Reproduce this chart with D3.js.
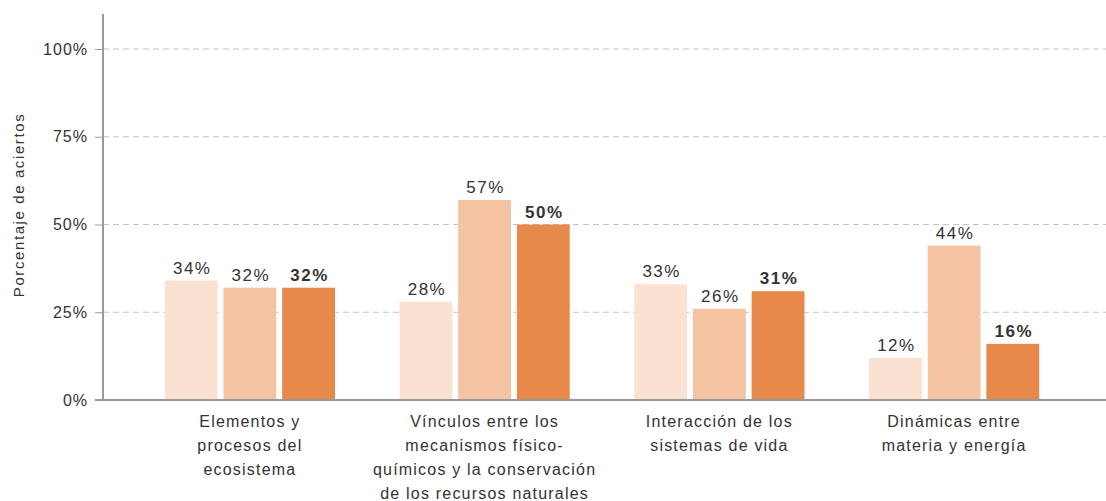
<!DOCTYPE html>
<html>
<head>
<meta charset="utf-8">
<script src="https://cdn.jsdelivr.net/npm/d3@7"></script>
<style>
  body { margin: 0; background: #fff; }
  text { font-family: "Liberation Sans", Arial, sans-serif; }
</style>
</head>
<body>
<svg id="chart" width="1106" height="501"></svg>
<script>
// chart data
var categories = [
  ["Elementos y", "procesos del", "ecosistema"],
  ["Vínculos entre los", "mecanismos físico-", "químicos y la conservación", "de los recursos naturales"],
  ["Interacción de los", "sistemas de vida"],
  ["Dinámicas entre", "materia y energía"]
];
var series = ["s1", "s2", "s3"];
var values = [
  [34, 32, 32],
  [28, 57, 50],
  [33, 26, 31],
  [12, 44, 16]
];
var yTicks = [0, 25, 50, 75, 100];
var colors = ["#fbe1d1", "#f4c4a2", "#e8894c"];

var svg = d3.select('#chart');
var x0 = 103, yTop = 49, yBottom = 400;

var x = d3.scaleBand()
  .domain(d3.range(categories.length))
  .range([100, 1104])
  .paddingInner(0.275)
  .paddingOuter(0.276);

var xs = d3.scaleBand()
  .domain(series)
  .range([0, x.bandwidth()])
  .paddingInner(0.1);

var y = d3.scaleLinear().domain([0, 100]).range([yBottom, yTop]);

// gridlines
svg.append('g').selectAll('line')
  .data(yTicks.filter(function (d) { return d > 0; }))
  .enter().append('line')
  .attr('x1', x0).attr('x2', 1106)
  .attr('y1', function (d) { return y(d); })
  .attr('y2', function (d) { return y(d); })
  .attr('stroke', '#c4c4c4')
  .attr('stroke-width', 1)
  .attr('stroke-dasharray', '6,4');

// bars
var groups = svg.append('g').selectAll('g')
  .data(values)
  .enter().append('g')
  .attr('transform', function (d, i) { return 'translate(' + x(i) + ',0)'; });

groups.selectAll('rect')
  .data(function (d) { return d; })
  .enter().append('rect')
  .attr('x', function (d, i) { return xs(series[i]); })
  .attr('width', xs.bandwidth())
  .attr('y', function (d) { return y(d); })
  .attr('height', function (d) { return yBottom - y(d); })
  .attr('fill', function (d, i) { return colors[i]; });

groups.selectAll('text')
  .data(function (d) { return d; })
  .enter().append('text')
  .attr('x', function (d, i) { return xs(series[i]) + xs.bandwidth() / 2 + 1; })
  .attr('y', function (d) { return y(d) - 7; })
  .attr('text-anchor', 'middle')
  .attr('font-size', 17)
  .attr('letter-spacing', 1.5)
  .attr('fill', '#333')
  .attr('font-weight', function (d, i) { return i === 2 ? 'bold' : 'normal'; })
  .text(function (d) { return d + '%'; });

// y axis
var yAxis = svg.append('g')
  .attr('transform', 'translate(' + x0 + ',0)')
  .call(d3.axisLeft(y).tickValues(yTicks).tickSize(8).tickFormat(function (d) { return d + '%'; }));
yAxis.select('.domain').remove();
yAxis.selectAll('.tick line').attr('stroke', '#999').attr('stroke-width', 1);
yAxis.selectAll('.tick text')
  .attr('font-size', 16)
  .attr('letter-spacing', 1)
  .attr('fill', '#333')
  .attr('font-family', '"Liberation Sans", Arial, sans-serif')
  .attr('x', -15);

svg.append('line')
  .attr('x1', x0).attr('x2', x0)
  .attr('y1', 14).attr('y2', yBottom)
  .attr('stroke', '#999').attr('stroke-width', 2);

// x axis line
svg.append('line')
  .attr('x1', x0 - 8).attr('x2', 1106)
  .attr('y1', yBottom).attr('y2', yBottom)
  .attr('stroke', '#999').attr('stroke-width', 2);

// category labels
var labels = svg.append('g').selectAll('text')
  .data(categories)
  .enter().append('text')
  .attr('text-anchor', 'middle')
  .attr('font-size', 16)
  .attr('letter-spacing', 1.2)
  .attr('fill', '#333')
  .attr('transform', function (d, i) { return 'translate(' + (x(i) + x.bandwidth() / 2) + ',427)'; });

labels.selectAll('tspan')
  .data(function (d) { return d; })
  .enter().append('tspan')
  .attr('x', 0)
  .attr('y', function (d, i) { return i * 24; })
  .text(function (d) { return d; });

// y title
svg.append('text')
  .attr('transform', 'translate(24,205) rotate(-90)')
  .attr('text-anchor', 'middle')
  .attr('font-size', 15)
  .attr('letter-spacing', 1.6)
  .attr('fill', '#333')
  .text('Porcentaje de aciertos');
</script>
</body>
</html>
